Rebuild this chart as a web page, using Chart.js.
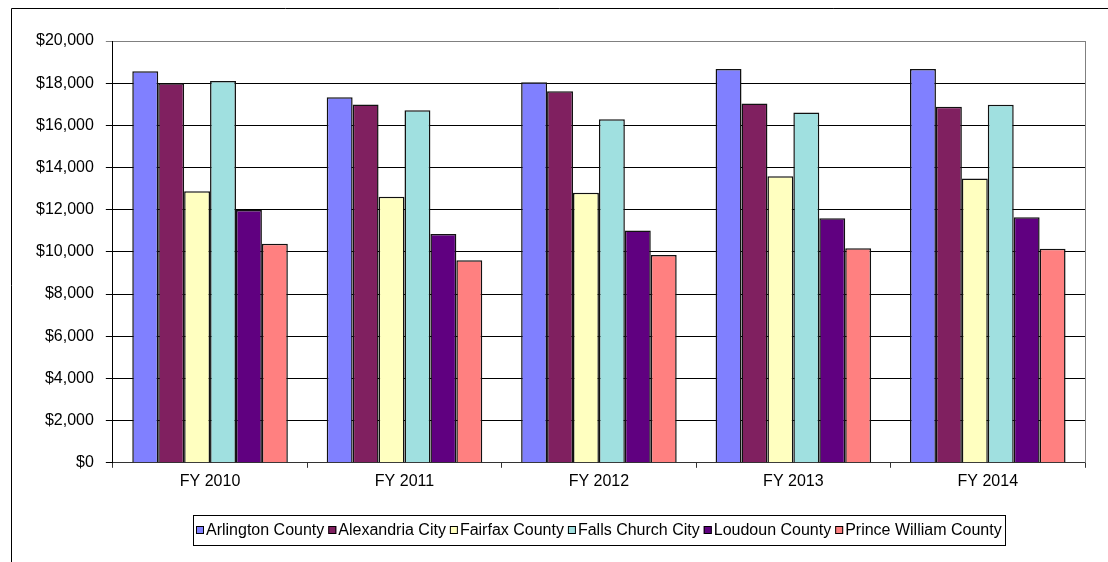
<!DOCTYPE html>
<html>
<head>
<meta charset="utf-8">
<script src="https://cdn.jsdelivr.net/npm/chart.js@4.4.1/dist/chart.umd.min.js"></script>
<style>
  body { margin: 0; background: #fff; }
  canvas { display: block; }
</style>
</head>
<body>
<canvas id="myChart" width="1108" height="562"></canvas>
<script>
const years = ["FY 2010", "FY 2011", "FY 2012", "FY 2013", "FY 2014"];

const arlington = [18570, 17330, 18050, 18670, 18670];
const alexandria = [18000, 16990, 17620, 17040, 16880];
const fairfax = [12870, 12610, 12810, 13590, 13480];
const fallsChurch = [18100, 16720, 16290, 16610, 16980];
const loudoun = [11990, 10850, 11020, 11590, 11640];
const princeWilliam = [10390, 9600, 9850, 10170, 10150];

const seriesNames = ["Arlington County", "Alexandria City", "Fairfax County", "Falls Church City", "Loudoun County", "Prince William County"];
const seriesValues = [arlington, alexandria, fairfax, fallsChurch, loudoun, princeWilliam];
const seriesColors = ["#8080FF", "#802060", "#FFFFC0", "#A0E0E0", "#600080", "#FF8080"];

const FONT = "'Liberation Sans', Arial, sans-serif";
Chart.defaults.font.family = FONT;
Chart.defaults.color = "#000";

// white page, outer frame, plot edge and the boxed legend (Excel style)
const framePlugin = {
  id: "frame",
  beforeDraw(chart) {
    const ctx = chart.ctx;
    ctx.save();
    ctx.fillStyle = "#fff";
    ctx.fillRect(0, 0, chart.width, chart.height);
    ctx.strokeStyle = "#000";
    ctx.lineWidth = 1;
    ctx.beginPath();
    ctx.moveTo(11.5, chart.height);
    ctx.lineTo(11.5, 8.5);
    ctx.lineTo(chart.width, 8.5);
    ctx.stroke();
    ctx.restore();
  },
  afterDraw(chart) {
    const ctx = chart.ctx;
    const a = chart.chartArea;
    ctx.save();
    ctx.strokeStyle = "#808080";
    ctx.lineWidth = 1;
    ctx.beginPath();
    ctx.moveTo(Math.round(a.right) + 0.5, a.top);
    ctx.lineTo(Math.round(a.right) + 0.5, a.bottom);
    ctx.stroke();

    // legend
    ctx.font = "16px " + FONT;
    const sets = chart.data.datasets;
    const box = 8, gap = 2, space = 4, pad = 3;
    const widths = sets.map((d) => ctx.measureText(d.label).width);
    let total = widths.reduce((s, w) => s + box + gap + w, 0) + space * (sets.length - 1);
    const cy = 530;
    let x = Math.round((a.left + a.right) / 2 - total / 2);
    ctx.strokeStyle = "#000";
    ctx.strokeRect(x - pad + 0.5, 515.5, Math.round(total + 2 * pad), 30);
    ctx.textBaseline = "middle";
    sets.forEach((d, i) => {
      ctx.fillStyle = d.backgroundColor;
      ctx.fillRect(x, cy - 4, box, box);
      ctx.strokeRect(x + 0.5, cy - 4 + 0.5, box - 1, box - 1);
      ctx.fillStyle = "#000";
      ctx.fillText(d.label, x + box + gap, cy + 1);
      x += box + gap + widths[i] + space;
    });
    ctx.restore();
  }
};

function makeChart() {
  const ctx = document.getElementById("myChart").getContext("2d");
  new Chart(ctx, {
    type: "bar",
    data: {
      labels: years,
      datasets: seriesNames.map((name, i) => {
        return {
          label: name,
          data: seriesValues[i],
          backgroundColor: seriesColors[i],
          borderColor: "#111",
          borderWidth: 1.5,
          categoryPercentage: 0.8,
          barPercentage: 1.0,
        };
      }),
    },
    options: {
      responsive: false,
      animation: false,
      layout: {
        padding: { left: 24, right: 23, top: 41, bottom: 67 },
      },
      plugins: {
        tooltip: { enabled: false },
        legend: { display: false },
      },
      scales: {
        x: {
          grid: {
            drawOnChartArea: false,
            drawTicks: true,
            tickLength: 5,
            color: "#333",
          },
          border: { color: "#333" },
          ticks: { font: { size: 16 }, padding: 4 },
        },
        y: {
          min: 0,
          max: 20000,
          ticks: {
            stepSize: 2000,
            font: { size: 16 },
            padding: 12,
            callback: (v) => "$" + v.toLocaleString("en-US"),
          },
          grid: {
            tickLength: 7,
            color: (c) => (c.tick && c.tick.value === 20000 ? "#808080" : "#000"),
          },
          border: { color: "#000" },
        },
      },
    },
    plugins: [framePlugin],
  });
}

makeChart();
</script>
</body>
</html>
